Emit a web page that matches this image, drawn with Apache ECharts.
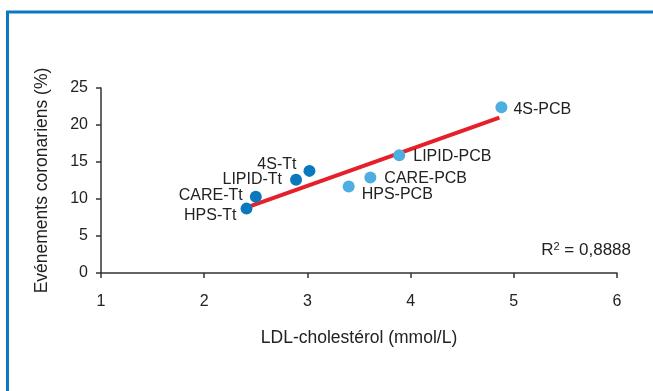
<!DOCTYPE html>
<html>
<head>
<meta charset="utf-8">
<script src="https://cdn.jsdelivr.net/npm/echarts@6/dist/echarts.min.js"></script>
<style>
html, body { margin: 0; padding: 0; background: #fff; }
#chart { width: 653px; height: 391px; }
</style>
</head>
<body>
<div id="chart"></div>
<script>
// essais sous traitement (Tt)
var ttNames = ['HPS-Tt', 'CARE-Tt', 'LIPID-Tt', '4S-Tt'];
var ttLdl = [2.41, 2.50, 2.89, 3.02];
var ttEvents = [8.7, 10.3, 12.6, 13.8];

// bras placebo (PCB)
var pcbNames = ['HPS-PCB', 'CARE-PCB', 'LIPID-PCB', '4S-PCB'];
var pcbLdl = [3.40, 3.61, 3.89, 4.88];
var pcbEvents = [11.7, 12.9, 15.9, 22.4];

// droite de regression
var fitLdl = [2.40, 4.86];
var fitEvents = [8.8, 21.0];

var xTicks = [1, 2, 3, 4, 5, 6];
var yTicks = [0, 5, 10, 15, 20, 25];
var r2Text = '0,8888';

var font = 'Liberation Sans, Arial, sans-serif';

function toPoints(xs, ys, names) {
    var out = [];
    for (var i = 0; i < xs.length; i++) {
        out.push({ value: [xs[i], ys[i]], name: names ? names[i] : '' });
    }
    return out;
}

// positions des etiquettes
var ttLabelPos = [
    { position: 'left', offset: [3, 7] },
    { position: 'left', offset: [0, -1] },
    { position: 'left', offset: [-1, 0] },
    { position: 'left', offset: [0, -6] }
];
var pcbLabelPos = [
    { position: 'right', offset: [0, 8] },
    { position: 'right', offset: [1, 1] },
    { position: 'right', offset: [1, 1] },
    { position: 'right', offset: [-1, 2] }
];

var ttData = toPoints(ttLdl, ttEvents, ttNames).map(function (d, i) {
    d.label = ttLabelPos[i];
    return d;
});
var pcbData = toPoints(pcbLdl, pcbEvents, pcbNames).map(function (d, i) {
    d.label = pcbLabelPos[i];
    return d;
});

var pointLabel = {
    show: true,
    formatter: '{b}',
    fontSize: 16,
    color: '#222',
    distance: 7,
    fontFamily: font
};

var option = {
    animation: false,
    backgroundColor: '#fff',
    textStyle: { fontFamily: font },
    grid: { left: 101, right: 36, top: 88, bottom: 118 },
    xAxis: {
        type: 'value',
        min: xTicks[0],
        max: xTicks[xTicks.length - 1],
        interval: 1,
        name: 'LDL-cholestérol (mmol/L)',
        nameLocation: 'middle',
        nameGap: 56,
        nameTextStyle: { fontSize: 17.5, color: '#222', fontFamily: font },
        axisLine: { lineStyle: { color: '#333', width: 1.5 } },
        axisTick: { show: true, length: 5, lineStyle: { color: '#333', width: 1.5 } },
        axisLabel: { fontSize: 16, color: '#222', margin: 21, fontFamily: font },
        splitLine: { show: false }
    },
    yAxis: {
        type: 'value',
        min: yTicks[0],
        max: yTicks[yTicks.length - 1],
        interval: 5,
        name: 'Evénements coronariens (%)',
        nameLocation: 'middle',
        nameGap: 50,
        nameRotate: 90,
        nameTextStyle: { fontSize: 17.5, color: '#222', fontFamily: font },
        axisLine: { show: true, lineStyle: { color: '#333', width: 1.5 } },
        axisTick: { show: true, length: 5, lineStyle: { color: '#333', width: 1.5 } },
        axisLabel: { fontSize: 16, color: '#222', margin: 13, fontFamily: font },
        splitLine: { show: false }
    },
    series: [
        {
            type: 'line',
            data: toPoints(fitLdl, fitEvents),
            showSymbol: false,
            lineStyle: { color: '#e5202a', width: 4 },
            z: 3
        },
        {
            type: 'scatter',
            data: ttData,
            symbolSize: 12,
            itemStyle: { color: '#0a78bd', opacity: 1 },
            label: pointLabel,
            z: 4
        },
        {
            type: 'scatter',
            data: pcbData,
            symbolSize: 12,
            itemStyle: { color: '#4eaee0', opacity: 1 },
            label: pointLabel,
            z: 4
        }
    ],
    graphic: [
        {
            type: 'polyline',
            shape: { points: [[7.5, 391], [7.5, 12], [653, 12]] },
            style: { stroke: '#0a7abf', lineWidth: 3, fill: null }
        },
        {
            type: 'text',
            right: 22,
            top: 241,
            style: {
                text: '{r|R}{s|2}{r| = ' + r2Text + '}',
                rich: {
                    r: { fontSize: 17, fill: '#222', fontFamily: font },
                    s: { fontSize: 11, fill: '#222', fontFamily: font, verticalAlign: 'top', padding: [0, 0, 7, 0] }
                }
            }
        }
    ]
};

var chart = echarts.init(document.getElementById('chart'));
chart.setOption(option);
</script>
</body>
</html>
